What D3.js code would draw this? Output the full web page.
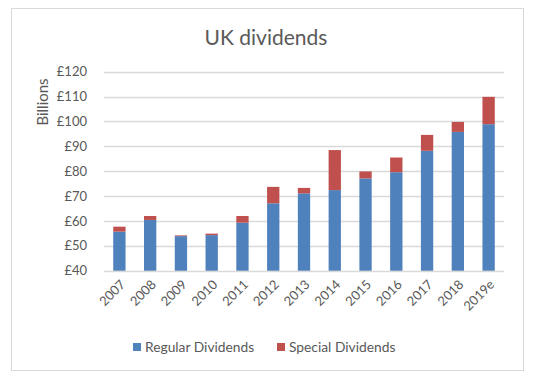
<!DOCTYPE html>
<html>
<head>
<meta charset="utf-8">
<script src="https://cdn.jsdelivr.net/npm/d3@7"></script>
<style>
  body { margin: 0; background: #fff; }
  text { font-family: Lato, "Noto Sans", sans-serif; fill: #595959; }
</style>
</head>
<body>
<script>
// values, £ billions
var years = ['2007', '2008', '2009', '2010', '2011', '2012', '2013',
	'2014', '2015', '2016', '2017', '2018', '2019e'];
var regular = [55.7, 60.4, 53.9, 54.3, 59.3, 67.1, 71.1, 72.4, 77.1, 79.6, 88.2, 95.8, 98.9];
var special = [2.0, 1.6, 0.3, 0.6, 2.7, 6.6, 2.2, 16.1, 2.8, 5.9, 6.4, 4.0, 11.0];
var yTicks = [40, 50, 60, 70, 80, 90, 100, 110, 120];
var seriesNames = ['Regular Dividends', 'Special Dividends'];
var colors = ['#4f81bd', '#c0504d'];

var width = 535, height = 385;
var plotLeft = 104, plotRight = 504, plotTop = 71.7, plotBottom = 270.7;

var svg = d3.select('body').append('svg')
	.attr('width', width)
	.attr('height', height);

svg.append('rect')
	.attr('x', 11.5).attr('y', 8.5)
	.attr('width', 512).attr('height', 362)
	.attr('fill', '#fff')
	.attr('stroke', '#d9d9d9');

var x = d3.scaleBand().domain(years).range([plotLeft, plotRight]).paddingInner(0.6).paddingOuter(0.3);
var y = d3.scaleLinear().domain([40, 120]).range([plotBottom, plotTop]);

// gridlines
svg.append('g').selectAll('line')
	.data(yTicks)
	.enter().append('line')
	.attr('x1', plotLeft).attr('x2', plotRight)
	.attr('y1', function(d) { return Math.round(y(d)) + 0.5; })
	.attr('y2', function(d) { return Math.round(y(d)) + 0.5; })
	.attr('stroke', '#d9d9d9')
	.attr('stroke-width', 1.3);

var yAxis = svg.append('g')
	.attr('transform', 'translate(' + (plotLeft - 14) + ',0)')
	.call(d3.axisLeft(y).tickValues(yTicks).tickSize(0).tickFormat(function(d) { return '£' + d; }));
yAxis.select('.domain').remove();
yAxis.selectAll('text').style('font-size', '13px').style('fill', '#595959');

var stacked = d3.stack().keys([0, 1])(years.map(function(d, i) {
	return { 0: regular[i], 1: special[i], year: d };
}));

svg.append('g').selectAll('g')
	.data(stacked)
	.enter().append('g')
	.attr('fill', function(d, i) { return colors[i]; })
	.selectAll('rect')
	.data(function(d) { return d; })
	.enter().append('rect')
	.attr('x', function(d) { return x(d.data.year); })
	.attr('width', x.bandwidth())
	.attr('y', function(d) { return y(d[1]); })
	.attr('height', function(d) { return y(Math.max(d[0], 40)) - y(d[1]); });

var xAxis = svg.append('g')
	.attr('transform', 'translate(2,' + (plotBottom + 10) + ')')
	.call(d3.axisBottom(x).tickSize(0));
xAxis.select('.domain').remove();
xAxis.selectAll('text')
	.style('font-size', '13px')
	.style('fill', '#595959')
	.attr('text-anchor', 'end')
	.attr('y', 0)
	.attr('dy', '0.5em')
	.attr('transform', 'rotate(-45)');

svg.append('text')
	.attr('x', 266).attr('y', 45)
	.attr('text-anchor', 'middle')
	.style('font-size', '21px')
	.text('UK dividends');

svg.append('text')
	.attr('transform', 'translate(48,102)rotate(-90)')
	.attr('text-anchor', 'middle')
	.style('font-size', '15px')
	.text('Billions');

var legend = svg.append('g').selectAll('g')
	.data(seriesNames)
	.enter().append('g')
	.attr('transform', function(d, i) { return 'translate(' + (i === 0 ? 133 : 277) + ',343)'; });
legend.append('rect')
	.attr('width', 8).attr('height', 8)
	.attr('fill', function(d, i) { return colors[i]; });
legend.append('text')
	.attr('x', 12).attr('y', 4)
	.attr('dy', '0.35em')
	.style('font-size', '13.8px')
	.text(function(d) { return d; });
</script>
</body>
</html>
